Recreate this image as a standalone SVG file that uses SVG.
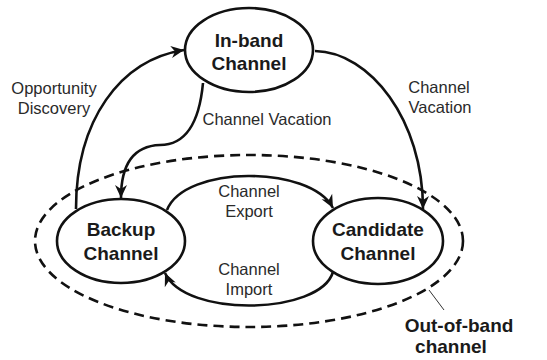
<svg xmlns="http://www.w3.org/2000/svg" width="547" height="360" viewBox="0 0 547 360">
<style>
.node{fill:#fff;stroke:#111;stroke-width:2.6}
.bold{font-family:"Liberation Sans",Arial,sans-serif;font-weight:bold;font-size:19px;fill:#1a1a1a;text-anchor:middle}
.lbl{font-family:"Liberation Sans",Arial,sans-serif;font-size:16.5px;fill:#2a2a2a;text-anchor:middle}
.edge{fill:none;stroke:#111;stroke-width:2.6}
</style>
<defs>
<marker id="arr" markerUnits="userSpaceOnUse" markerWidth="16" markerHeight="14" viewBox="-1 -7 16 14" refX="13" refY="0" orient="auto">
<path d="M0,-6 L13,0 L0,6 L4,0 z" fill="#111"/>
</marker>
</defs>
<g id="out-of-band">
<ellipse cx="249" cy="241" rx="214" ry="86" fill="none" stroke="#111" stroke-width="2.6" stroke-dasharray="10,6"/>
<line x1="429" y1="290" x2="444" y2="310" stroke="#333" stroke-width="1"/>
<text class="bold" x="459" y="332">Out-of-band</text>
<text class="bold" x="451" y="353">channel</text>
</g>
<g id="connectors">
<path class="edge" d="M76 209 C76 120 120 60 184 50" marker-end="url(#arr)"/>
<path class="edge" d="M315 51 C370 52 423 120 423 209" marker-end="url(#arr)"/>
<path class="edge" d="M203 83 C200 115 190 145 160 145 C130 146 121 170 121 198" marker-end="url(#arr)"/>
<path class="edge" d="M167 210 C185 165 310 165 333 208" marker-end="url(#arr)"/>
<path class="edge" d="M333 272 C320 315 185 318 165 273" marker-end="url(#arr)"/>
<text class="lbl" x="54" y="94">Opportunity</text>
<text class="lbl" x="54" y="114">Discovery</text>
<text class="lbl" x="267" y="125">Channel Vacation</text>
<text class="lbl" x="439" y="93">Channel</text>
<text class="lbl" x="440" y="113">Vacation</text>
<text class="lbl" x="249" y="197">Channel</text>
<text class="lbl" x="249" y="217">Export</text>
<text class="lbl" x="249" y="275">Channel</text>
<text class="lbl" x="249" y="295">Import</text>
</g>
<g id="in-band">
<ellipse class="node" cx="249" cy="50" rx="64" ry="42"/>
<text class="bold" x="249" y="47">In-band</text>
<text class="bold" x="249" y="70">Channel</text>
</g>
<g id="backup">
<ellipse class="node" cx="121" cy="241" rx="64" ry="42"/>
<text class="bold" x="121" y="236">Backup</text>
<text class="bold" x="121" y="260">Channel</text>
</g>
<g id="candidate">
<ellipse class="node" cx="378" cy="241" rx="65" ry="43"/>
<text class="bold" x="378" y="236">Candidate</text>
<text class="bold" x="378" y="260">Channel</text>
</g>
</svg>
